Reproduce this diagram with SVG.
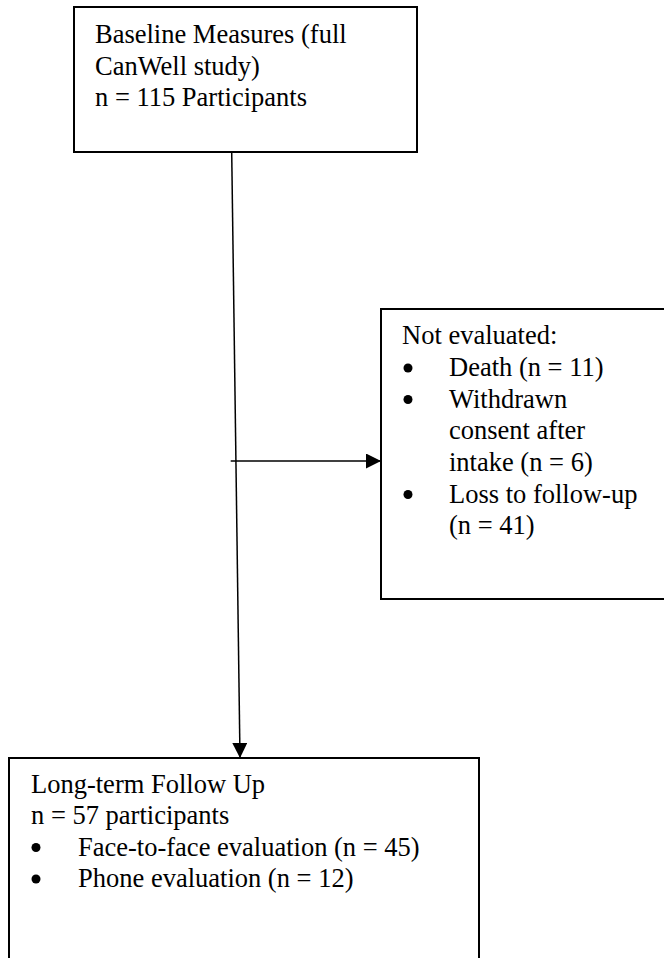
<svg xmlns="http://www.w3.org/2000/svg" width="664" height="958" viewBox="0 0 664 958">
<style>
.box{fill:#fff;stroke:#000;stroke-width:2}
.t{font-family:"Liberation Serif","Times New Roman",serif;font-size:26.5px;fill:#000}
.conn{stroke:#000;stroke-width:1.5;fill:none}
.dot{fill:#000}
</style>
<defs>
<marker id="arr" markerUnits="userSpaceOnUse" markerWidth="15" markerHeight="15" refX="15" refY="7.5" orient="auto">
<path d="M0,0 L15,7.5 L0,15 z" fill="#000"/>
</marker>
</defs>
<rect width="664" height="958" fill="#fff"/>
<g id="baseline">
<rect class="box" x="74" y="7" width="343" height="145"/>
<text class="t" x="95" y="43">Baseline Measures (full</text>
<text class="t" x="95" y="74.5">CanWell study)</text>
<text class="t" x="95" y="106">n = 115 Participants</text>
</g>
<g id="not-evaluated">
<rect class="box" x="381" y="309" width="300" height="290"/>
<text class="t" x="402" y="344">Not evaluated:</text>
<circle class="dot" cx="408" cy="368" r="4.5"/>
<text class="t" x="449" y="376">Death (n = 11)</text>
<circle class="dot" cx="408" cy="399.5" r="4.5"/>
<text class="t" x="449" y="407.5">Withdrawn</text>
<text class="t" x="449" y="439">consent after</text>
<text class="t" x="449" y="471">intake (n = 6)</text>
<circle class="dot" cx="408" cy="494.5" r="4.5"/>
<text class="t" x="449" y="502.5">Loss to follow-up</text>
<text class="t" x="449" y="534">(n = 41)</text>
</g>
<g id="follow-up">
<rect class="box" x="9" y="758" width="470" height="220"/>
<text class="t" x="31" y="793">Long-term Follow Up</text>
<text class="t" x="31" y="824">n = 57 participants</text>
<circle class="dot" cx="36" cy="847.5" r="4.5"/>
<text class="t" x="78" y="855.5">Face-to-face evaluation (n = 45)</text>
<circle class="dot" cx="36" cy="879" r="4.5"/>
<text class="t" x="78" y="887">Phone evaluation (n = 12)</text>
</g>
<g id="connectors">
<line class="conn" x1="231.7" y1="152" x2="240" y2="758" marker-end="url(#arr)"/>
<line class="conn" x1="230.7" y1="461" x2="381" y2="461" marker-end="url(#arr)"/>
</g>
</svg>
